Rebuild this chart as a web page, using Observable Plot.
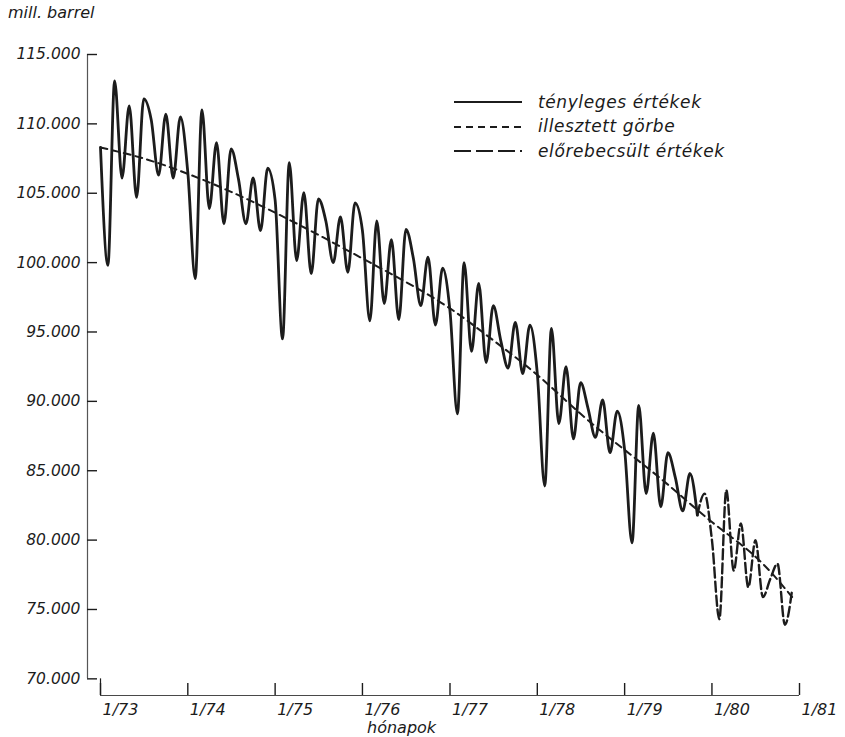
<!DOCTYPE html>
<html>
<head>
<meta charset="utf-8">
<script src="https://cdn.jsdelivr.net/npm/d3@7"></script>
<script src="https://cdn.jsdelivr.net/npm/@observablehq/plot@0.6"></script>
<style>
  html, body { margin: 0; padding: 0; background: #ffffff; }
  #wrap { position: relative; width: 845px; height: 737px; overflow: hidden; }
  .hand { font-family: "DejaVu Sans", sans-serif; font-style: italic; color: #1a1a1a; position: absolute; white-space: nowrap; line-height: 1.1; }
  #unit { left: 8px; top: 4px; font-size: 16px; }
  #xlabel { left: 367px; top: 719px; font-size: 16px; }
  #legend { left: 452px; top: 90px; }
  .lg { display: flex; align-items: center; height: 24.5px; }
  .lg svg { width: 72px; height: 10px; margin-right: 14px; }
  .lg span { font-size: 17px; font-family: "DejaVu Sans", sans-serif; font-style: italic; letter-spacing: 0.6px; }
</style>
</head>
<body>
<div id="wrap">
  <div id="chart"></div>
  <div id="unit" class="hand">mill. barrel</div>
  <div id="xlabel" class="hand">hónapok</div>
  <div id="legend" class="hand"></div>
</div>
<script>
// ---- data (mill. barrel, monthly) ----
const startYear = 1973;
// actual values Jan 1973 .. Nov 1979
const actualValues = [
  108300, 99800, 113100, 106100, 111300, 104700, 111800, 110300, 106300, 110700, 106100, 110500, // 1973
  106500, 98850, 111000, 103900, 108650, 102800, 108200, 106000, 102800, 106100, 102300, 106800, // 1974
  104500, 94500, 107200, 100150, 105050, 99200, 104600, 103000, 100000, 103300, 99300, 104300,   // 1975
  102300, 95800, 103000, 97050, 101650, 95900, 102400, 100300, 96900, 100400, 95500, 99600,      // 1976
  96500, 89100, 100000, 93600, 98500, 92800, 96900, 94400, 92400, 95700, 92000, 95500,           // 1977
  92000, 83900, 95250, 88400, 92500, 87300, 91350, 89500, 87400, 90100, 86300, 89300,            // 1978
  86500, 79800, 89700, 83350, 87700, 82400, 86300, 84500, 82100, 84800, 81800                    // 1979 (Jan-Nov)
];
// forecast values Nov 1979 .. Dec 1980 (starts at the last actual month)
const forecastStart = 82; // month index of Nov 1979
const forecastValues = [
  81800, 83350,                                                              // Nov, Dec 1979
  80000, 74300, 83600, 77800, 81200, 76600, 80000, 75900, 77200, 78300, 73900, 76400 // 1980
];
// fitted curve: month index and value read at knots
const fittedMonths = [0, 6, 12, 18, 24, 30, 36, 42, 48, 54, 60, 66, 72, 78, 84, 90, 95];
const fittedValues = [108300, 107500, 106400, 105100, 103600, 102000, 100300, 98600, 96700, 94400, 91900, 89100, 86500, 84000, 81300, 78800, 75900];

const xTickYears = [1973, 1974, 1975, 1976, 1977, 1978, 1979, 1980, 1981];
const xTickLabels = ["1/73", "1/74", "1/75", "1/76", "1/77", "1/78", "1/79", "1/80", "1/81"];
const yTickValues = [70000, 75000, 80000, 85000, 90000, 95000, 100000, 105000, 110000, 115000];
const yTickLabels = ["70.000", "75.000", "80.000", "85.000", "90.000", "95.000", "100.000", "105.000", "110.000", "115.000"];

const legendItems = [
  {label: "tényleges értékek", dash: null},
  {label: "illesztett görbe", dash: "7,5"},
  {label: "előrebecsült értékek", dash: "17,5"}
];

// ---- tables ----
const monthDate = (i) => new Date(Date.UTC(startYear, i, 1));
const actual = actualValues.map((v, i) => ({date: monthDate(i), value: v}));
const forecast = forecastValues.map((v, i) => ({date: monthDate(forecastStart + i), value: v}));
const fitted = fittedMonths.map((m, i) => ({date: monthDate(m), value: fittedValues[i]}));
const xTicks = xTickYears.map((y, i) => ({date: new Date(Date.UTC(y, 0, 1)), label: xTickLabels[i]}));
const yTicks = yTickValues.map((v, i) => ({value: v, label: yTickLabels[i]}));

const xStart = xTicks[0].date, xEnd = xTicks[xTicks.length - 1].date;
const yBottom = 68800, yTop = 115000;
const ink = "#1c1c1c";
const font = "DejaVu Sans, sans-serif";

const chart = Plot.plot({
  width: 845,
  height: 737,
  marginTop: 54,
  marginBottom: 42,
  marginLeft: 87,
  marginRight: 46,
  style: {background: "transparent", fontFamily: font},
  x: {type: "utc", domain: [xStart, xEnd], range: [100, 799], axis: null},
  y: {domain: [yBottom, yTop], axis: null},
  marks: [
    // y axis line and ticks (ticks point inward)
    Plot.ruleX([xStart], {y1: 70000, y2: yTop, dx: -13, stroke: ink, strokeWidth: 1.2, strokeOpacity: 0.75}),
    Plot.ruleY(yTicks, {y: "value", x1: xStart, x2: xStart, insetLeft: -13, insetRight: 3, stroke: ink, strokeWidth: 1.4}),
    Plot.ruleX([xStart], {y1: yBottom, y2: 70000, stroke: ink, strokeWidth: 1.2}),
    Plot.text(yTicks, {x: xStart, y: "value", text: "label", textAnchor: "end", dx: -20, fontSize: 15.5, fontStyle: "italic", fill: ink, fontFamily: font}),
    // x axis line and ticks (ticks point up)
    Plot.ruleY([yBottom], {x1: xStart, x2: xEnd, stroke: ink, strokeWidth: 1.2, strokeOpacity: 0.8}),
    Plot.ruleX(xTicks, {x: "date", y1: yBottom, y2: yBottom, insetTop: -12, stroke: ink, strokeWidth: 1.4}),
    Plot.text(xTicks, {x: "date", y: yBottom, text: "label", textAnchor: "start", dx: 2, dy: 14, fontSize: 16, fontStyle: "italic", fill: ink, fontFamily: font}),
    // fitted curve
    Plot.line(fitted, {x: "date", y: "value", curve: "natural", stroke: ink, strokeWidth: 2, strokeDasharray: "7,5"}),
    // actual values
    Plot.line(actual, {x: "date", y: "value", curve: "monotone-x", stroke: ink, strokeWidth: 2.8, strokeLinejoin: "round", strokeLinecap: "round"}),
    // forecast values
    Plot.line(forecast, {x: "date", y: "value", curve: "monotone-x", stroke: ink, strokeWidth: 2.4, strokeDasharray: "10,4", strokeLinejoin: "round"})
  ]
});
document.getElementById("chart").appendChild(chart);

// legend
const legend = document.getElementById("legend");
for (const item of legendItems) {
  const row = document.createElement("div");
  row.className = "lg";
  const dashAttr = item.dash ? ` stroke-dasharray="${item.dash}"` : "";
  row.innerHTML = `<svg viewBox="0 0 72 10"><line x1="2" y1="5" x2="70" y2="5" stroke="${ink}" stroke-width="2.2"${dashAttr}/></svg><span>${item.label}</span>`;
  legend.appendChild(row);
}
</script>
</body>
</html>
